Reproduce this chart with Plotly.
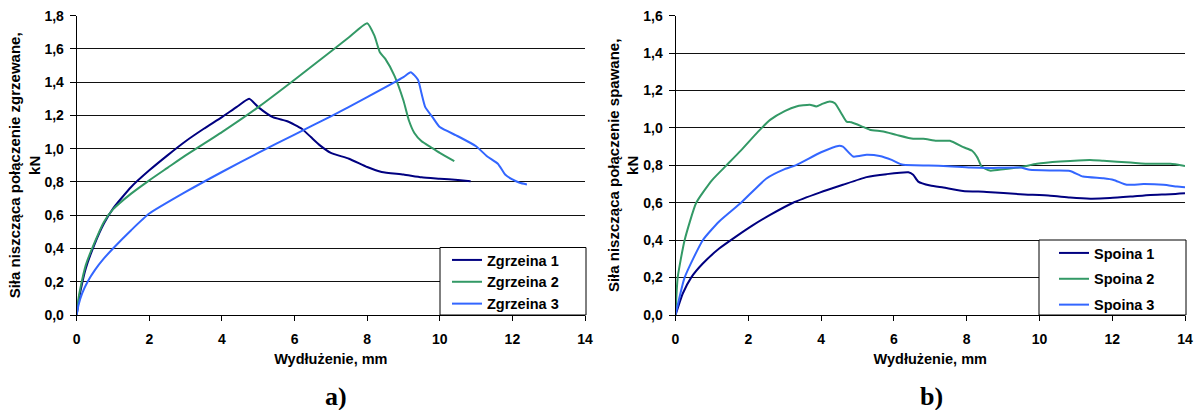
import plotly.graph_objects as go

# ---------------- data: panel a) Zgrzeina ----------------
z1_x = [0, 0.05, 0.1, 0.25, 0.5, 0.75, 1.0, 1.5, 2.0, 2.5, 3.0, 3.5, 4.0, 4.4, 4.75, 5.0, 5.4, 5.8, 6.2, 6.45, 6.7, 7.0, 7.5, 8.0, 8.4, 9.0, 9.5, 10.0, 10.5, 10.85]
z1_y = [0, 0.08, 0.14, 0.28, 0.43, 0.55, 0.64, 0.77, 0.87, 0.96, 1.045, 1.12, 1.19, 1.25, 1.30, 1.25, 1.19, 1.165, 1.12, 1.07, 1.02, 0.975, 0.94, 0.89, 0.86, 0.845, 0.828, 0.82, 0.812, 0.805]

z2_x = [0, 0.05, 0.1, 0.25, 0.5, 0.75, 1.0, 1.5, 2.0, 2.5, 3.0, 4.0, 5.0, 6.0, 7.0, 7.5, 8.0, 8.2, 8.35, 8.5, 8.75, 9.0, 9.15, 9.3, 9.5, 9.75, 10.0, 10.4]
z2_y = [0, 0.1, 0.16, 0.3, 0.44, 0.56, 0.635, 0.73, 0.81, 0.885, 0.96, 1.10, 1.25, 1.415, 1.585, 1.67, 1.755, 1.68, 1.58, 1.54, 1.44, 1.29, 1.17, 1.095, 1.045, 1.01, 0.975, 0.925]

z3_x = [0, 0.05, 0.15, 0.3, 0.5, 0.75, 1.0, 1.5, 2.0, 3.0, 4.0, 5.0, 6.0, 7.0, 8.0, 9.0, 9.2, 9.4, 9.5, 9.6, 9.8, 10.0, 10.5, 11.0, 11.3, 11.6, 11.8, 12.0, 12.2, 12.4]
z3_y = [0, 0.06, 0.13, 0.2, 0.27, 0.34, 0.40, 0.51, 0.61, 0.74, 0.86, 0.975, 1.085, 1.195, 1.31, 1.43, 1.46, 1.415, 1.33, 1.25, 1.19, 1.13, 1.075, 1.015, 0.955, 0.91, 0.845, 0.815, 0.795, 0.785]

# ---------------- data: panel b) Spoina ----------------
s1_x = [0, 0.2, 0.43, 0.75, 1.2, 1.67, 2.13, 2.6, 3.23, 3.96, 4.6, 5.25, 5.8, 6.4, 6.53, 6.67, 7.0, 7.36, 7.9, 8.55, 9.47, 10.3, 10.84, 11.4, 11.94, 12.5, 13.05, 13.6, 14.0]
s1_y = [0, 0.115, 0.2, 0.275, 0.355, 0.42, 0.48, 0.535, 0.6, 0.654, 0.696, 0.737, 0.753, 0.763, 0.75, 0.713, 0.692, 0.681, 0.663, 0.658, 0.646, 0.638, 0.628, 0.622, 0.625, 0.633, 0.642, 0.646, 0.651]

s2_x = [0, 0.06, 0.25, 0.57, 1.0, 1.4, 1.8, 2.27, 2.6, 3.0, 3.32, 3.69, 3.87, 4.05, 4.24, 4.38, 4.55, 4.7, 4.83, 5.1, 5.34, 5.71, 6.07, 6.53, 6.81, 7.17, 7.54, 7.91, 8.14, 8.3, 8.41, 8.64, 9.01, 9.47, 9.93, 10.57, 11.39, 11.76, 12.5, 13.05, 13.6, 14.0]
s2_y = [0, 0.2, 0.4, 0.6, 0.72, 0.8, 0.88, 0.98, 1.043, 1.09, 1.115, 1.124, 1.115, 1.13, 1.141, 1.132, 1.08, 1.034, 1.03, 1.01, 0.99, 0.981, 0.963, 0.942, 0.942, 0.931, 0.931, 0.897, 0.879, 0.84, 0.794, 0.772, 0.779, 0.79, 0.808, 0.82, 0.829, 0.824, 0.815, 0.808, 0.808, 0.797]

s3_x = [0, 0.25, 0.75, 1.2, 1.8, 2.5, 3.0, 3.3, 4.0, 4.47, 4.6, 4.88, 5.25, 5.61, 5.94, 6.17, 6.26, 7.36, 8.1, 8.64, 9.47, 9.74, 10.39, 10.84, 11.2, 11.76, 12.04, 12.4, 12.86, 13.41, 13.78, 14.0]
s3_y = [0, 0.2, 0.4, 0.5, 0.6, 0.73, 0.78, 0.8, 0.87, 0.904, 0.9, 0.847, 0.856, 0.85, 0.829, 0.808, 0.803, 0.797, 0.788, 0.786, 0.788, 0.776, 0.772, 0.77, 0.74, 0.731, 0.722, 0.696, 0.70, 0.696, 0.687, 0.683]

names_a = ["Zgrzeina 1", "Zgrzeina 2", "Zgrzeina 3"]
names_b = ["Spoina 1", "Spoina 2", "Spoina 3"]
colors = ["#000080", "#339966", "#3366FF"]

x_ticks = [0, 2, 4, 6, 8, 10, 12, 14]

FONT = "Liberation Sans, Arial, sans-serif"
W, H = 1200, 410

fig = go.Figure()

for xs, ys, nm, c, i in zip([z1_x, z2_x, z3_x], [z1_y, z2_y, z3_y], names_a, colors, range(3)):
    fig.add_trace(go.Scatter(x=xs, y=ys, mode="lines", name=nm,
                             line=dict(color=c, width=2, shape="spline", smoothing=0.5),
                             xaxis="x", yaxis="y", legend="legend", legendgroup="a%d" % i))
for xs, ys, nm, c, i in zip([s1_x, s2_x, s3_x], [s1_y, s2_y, s3_y], names_b, colors, range(3)):
    fig.add_trace(go.Scatter(x=xs, y=ys, mode="lines", name=nm,
                             line=dict(color=c, width=2, shape="spline", smoothing=0.5),
                             xaxis="x2", yaxis="y2", legend="legend2", legendgroup="b%d" % i))

def px_x(p):
    return p / W

def px_y(p):
    return 1 - p / H

tickfont = dict(family=FONT, size=14, color="black", weight="bold")
titlefont = dict(family=FONT, size=15, color="black", weight="bold")

common_x = dict(range=[0, 14], tickvals=x_ticks, showgrid=False, zeroline=False, automargin=False,
                showline=True, linecolor="black", linewidth=1, ticks="outside", ticklen=5,
                tickcolor="black", tickfont=tickfont, ticklabelstandoff=6,
                title=dict(text="Wydłużenie, mm", font=dict(family=FONT, size=14.5, color="black", weight="bold"), standoff=8))
common_y = dict(showgrid=True, gridcolor="#111111", gridwidth=1, zeroline=False, automargin=False,
                showline=True, linecolor="black", linewidth=1, ticks="outside", ticklen=6,
                tickcolor="black", tickfont=tickfont, tickformat=".1f", dtick=0.2, ticklabelstandoff=3)

y_dom = [px_y(315), px_y(15.7)]

fig.update_layout(
    width=W, height=H, autosize=False,
    margin=dict(l=0, r=0, t=0, b=0, pad=0, autoexpand=False),
    paper_bgcolor="white", plot_bgcolor="white",
    separators=", ",
    xaxis=dict(domain=[px_x(76.7), px_x(585)], anchor="y", **common_x),
    yaxis=dict(domain=y_dom, anchor="x", range=[0, 1.8],
               title=dict(text="Siła niszcząca połączenie zgrzewane,<br>kN", font=titlefont, standoff=0),
               **common_y),
    xaxis2=dict(domain=[px_x(675.5), px_x(1185)], anchor="y2", **common_x),
    yaxis2=dict(domain=y_dom, anchor="x2", range=[0, 1.6],
                title=dict(text="Siła niszcząca połączenie spawane,<br>kN", font=titlefont, standoff=0),
                **common_y),
    legend=dict(x=px_x(447), xanchor="left", y=px_y(244), yanchor="top",
                bgcolor="rgba(0,0,0,0)", borderwidth=0, tracegroupgap=0, itemwidth=30,
                font=dict(family=FONT, size=14.5, color="black", weight="bold")),
    legend2=dict(x=px_x(1054), xanchor="left", y=px_y(237), yanchor="top",
                 bgcolor="rgba(0,0,0,0)", borderwidth=0, tracegroupgap=4, itemwidth=30,
                 font=dict(family=FONT, size=14.5, color="black", weight="bold")),
    showlegend=True,
)

# legend frames
fig.add_shape(type="rect", xref="paper", yref="paper", x0=px_x(440), x1=px_x(586), y0=px_y(315), y1=px_y(247.5),
              line=dict(color="black", width=1), fillcolor="white", layer="above")
fig.add_shape(type="rect", xref="paper", yref="paper", x0=px_x(1039), x1=px_x(1186), y0=px_y(315), y1=px_y(240),
              line=dict(color="black", width=1), fillcolor="white", layer="above")

# panel labels
for txt, xc in [("a)", 335.5), ("b)", 932)]:
    fig.add_annotation(text=txt, xref="paper", yref="paper", x=px_x(xc), y=px_y(396),
                       xanchor="center", yanchor="middle", showarrow=False,
                       font=dict(family="Liberation Serif, Times New Roman, serif", size=26, color="black", weight="bold"))

fig.write_html("out.html", config={"displayModeBar": False},
               post_script="document.body.style.margin='0';document.body.style.overflow='hidden';")
